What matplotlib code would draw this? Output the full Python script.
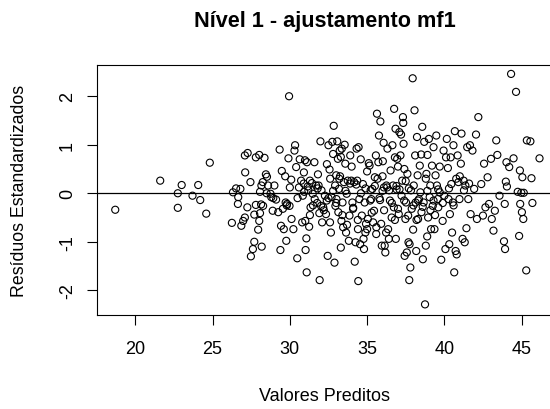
import matplotlib
matplotlib.use("Agg")
import matplotlib.pyplot as plt

plt.rcParams['font.family'] = ['Liberation Sans', 'DejaVu Sans']

title = "Nível 1 - ajustamento mf1"
xlabel = "Valores Preditos"
ylabel = "Resíduos Estandardizados"
xticks = [20, 25, 30, 35, 40, 45]
yticks = [-2, -1, 0, 1, 2]

pts = [
    (18.70, -0.34), (21.61, 0.26), (22.75, 0.00), (22.75, -0.30), (23.00, 0.17),
    (23.70, -0.05), (24.07, 0.17), (24.20, -0.14), (24.59, -0.42), (24.82, 0.63),
    (26.25, -0.61), (26.32, 0.02), (26.52, 0.10), (26.66, -0.08), (26.64, -0.22),
    (26.80, 0.09), (26.86, -0.67), (26.98, -0.57), (27.09, -0.50), (27.09, 0.78),
    (27.11, 0.43), (27.27, 0.83), (27.25, -0.29), (27.45, 0.23), (27.48, -1.30),
    (27.61, -1.15), (27.70, -1.00), (27.70, -0.44), (27.80, 0.74), (27.80, -0.24),
    (27.95, -0.75), (28.02, -0.57), (28.02, 0.79), (28.07, -0.41), (28.07, 0.03),
    (28.14, -0.23), (28.16, 0.16), (28.18, -1.10), (28.25, 0.23), (28.27, -0.26),
    (28.36, 0.73), (28.45, 0.39), (28.52, 0.34), (28.59, 0.16), (28.75, -0.01),
    (28.80, -0.08), (28.89, -0.36), (28.93, -0.10), (29.00, 0.16), (29.11, -0.13),
    (29.25, -0.39), (29.34, 0.90), (29.39, -1.17), (29.43, -0.67), (29.48, 0.46),
    (29.55, -0.32), (29.61, -0.74), (29.70, 0.35), (29.73, -0.19), (29.77, -0.98),
    (29.82, -0.22), (29.91, 0.72), (29.95, 2.00), (29.98, -0.26), (30.00, 0.12),
    (30.09, 0.28), (30.11, -0.53), (30.23, -0.74), (30.30, 0.88), (30.34, 0.99),
    (30.41, 0.54), (30.48, -1.34), (30.59, 0.12), (30.64, 0.70), (30.73, 0.26),
    (30.80, -0.60), (30.84, -0.05), (30.91, 0.43), (30.93, 0.03), (30.98, 0.68),
    (31.00, -0.57), (31.07, -0.93), (31.02, -1.17), (31.09, -1.63), (31.11, 0.64),
    (31.16, 0.14), (31.20, 0.06), (31.25, -0.69), (31.30, 0.26), (31.34, -0.29),
    (31.43, 0.21), (31.48, -0.01), (31.59, 0.64), (31.61, -0.12), (31.70, 0.16),
    (31.77, -0.20), (31.82, 0.39), (31.86, 0.16), (31.91, -0.41), (31.93, -1.79),
    (31.98, 1.07), (32.02, -0.26), (32.05, 0.06), (32.09, -0.60), (32.16, -0.29),
    (32.27, -0.05), (32.34, -0.43), (32.39, -0.15), (32.45, -1.29), (32.50, 0.99),
    (32.57, 0.49), (32.61, 0.30), (32.66, -0.81), (32.70, -0.08), (32.75, 1.06),
    (32.80, 0.81), (32.84, 1.39), (32.89, -1.43), (32.93, 0.16), (32.95, -0.26),
    (33.00, 0.37), (33.02, -0.12), (33.07, 1.07), (33.11, 0.71), (33.14, -0.39),
    (33.18, 0.09), (33.23, 0.88), (33.25, 0.35), (33.30, -1.12), (33.34, -0.57),
    (33.36, 0.92), (33.41, -0.19), (33.45, -0.70), (33.50, 0.23), (33.55, 1.00),
    (33.59, 0.61), (33.64, -0.81), (33.68, -0.01), (33.75, 0.26), (33.82, -0.98),
    (33.86, -0.46), (33.91, 0.78), (33.98, 0.26), (34.05, -0.19), (34.09, -0.32),
    (34.16, 0.23), (34.20, -1.41), (34.25, -1.01), (34.32, 0.92), (34.36, 0.26),
    (34.41, -0.74), (34.43, -1.81), (34.45, 0.95), (34.50, -0.12), (34.55, -1.05),
    (34.59, 0.70), (34.66, -0.46), (34.73, 0.19), (34.77, -0.94), (34.80, -1.15),
    (34.84, -0.19), (34.89, -0.81), (34.93, -0.63), (35.00, -0.74), (35.05, -0.53),
    (35.11, 0.62), (35.16, 0.57), (35.23, 0.06), (35.27, -0.12), (35.34, 0.09),
    (35.39, -0.60), (35.45, -0.36), (35.50, 0.33), (35.57, 0.78), (35.59, -0.84),
    (35.64, 1.64), (35.68, 0.30), (35.73, 0.64), (35.77, 1.19), (35.84, -0.14),
    (35.86, 1.48), (35.91, -0.63), (35.95, -1.08), (36.02, 0.66), (36.07, 1.04),
    (36.09, 0.12), (36.14, -1.08), (36.18, -1.22), (36.23, -0.81), (36.25, 0.16),
    (36.32, 0.92), (36.36, -0.74), (36.41, -0.94), (36.43, 0.06), (36.48, -0.15),
    (36.52, 0.47), (36.59, -0.50), (36.64, 0.99), (36.68, 0.16), (36.73, -0.29),
    (36.75, 1.74), (36.80, 0.74), (36.84, 1.33), (36.86, -0.94), (36.91, 0.08),
    (36.95, 0.71), (37.00, -0.32), (37.05, -0.43), (37.09, 1.26), (37.16, 0.78),
    (37.20, 1.21), (37.23, -0.05), (37.27, 0.26), (37.32, 1.57), (37.34, 1.45),
    (37.36, 1.02), (37.41, 0.50), (37.43, -1.29), (37.48, -0.53), (37.52, -0.19),
    (37.57, -1.22), (37.61, 0.40), (37.66, -0.46), (37.68, -1.01), (37.73, -1.79),
    (37.75, -1.05), (37.80, -1.53), (37.84, 0.06), (37.89, -0.32), (37.95, 2.37),
    (37.98, -0.75), (38.02, 0.16), (38.07, 1.71), (38.11, 0.78), (38.14, -0.19),
    (38.18, -1.19), (38.23, 1.16), (38.27, 0.37), (38.30, -0.53), (38.36, -0.12),
    (38.41, 0.57), (38.45, 0.02), (38.52, -0.39), (38.57, 1.37), (38.61, -1.36),
    (38.66, -0.19), (38.70, 1.06), (38.75, -2.29), (38.80, -1.08), (38.84, 0.40),
    (38.89, -0.89), (38.91, 0.79), (38.95, -0.50), (39.00, 1.12), (39.05, -0.08),
    (39.09, 0.16), (39.14, -0.74), (39.20, 0.57), (39.25, -0.26), (39.30, 0.95),
    (39.36, -0.74), (39.43, 0.37), (39.48, 1.19), (39.52, 0.16), (39.57, -0.12),
    (39.61, -0.29), (39.70, 0.02), (39.80, -1.37), (39.89, -0.57), (39.95, 0.88),
    (40.00, -0.05), (40.07, -1.15), (40.11, 0.74), (40.16, 1.12), (40.23, 0.52),
    (40.27, -0.12), (40.32, -1.05), (40.36, -0.43), (40.41, 0.74), (40.45, 0.19),
    (40.50, -0.81), (40.55, -0.19), (40.59, 0.99), (40.64, -1.63), (40.68, 1.28),
    (40.73, -1.19), (40.77, 0.30), (40.80, -1.26), (40.86, 0.78), (40.91, 0.23),
    (40.98, -0.12), (41.07, 0.61), (41.11, 1.23), (41.18, -0.94), (41.25, 0.26),
    (41.27, 0.06), (41.32, -1.01), (41.36, 0.16), (41.43, -0.72), (41.48, 0.95),
    (41.55, -0.12), (41.66, 0.99), (41.70, -0.43), (41.82, 0.88), (41.93, 0.09),
    (42.05, 1.21), (42.11, -0.53), (42.20, 1.57), (42.39, 0.19), (42.50, -0.46),
    (42.57, 0.61), (42.66, -0.29), (42.80, 0.33), (42.89, -0.22), (43.02, 0.71),
    (43.07, -0.53), (43.18, -0.77), (43.27, -0.36), (43.36, 1.09), (43.43, 0.79),
    (43.57, -0.05), (43.86, -0.99), (43.91, -0.22), (43.93, -1.15), (43.98, 0.24),
    (44.02, 0.64), (44.05, 0.14), (44.20, 0.54), (44.32, 2.46), (44.48, 0.72),
    (44.64, 2.09), (44.75, 0.03), (44.84, -0.88), (44.89, 0.47), (44.91, -0.22),
    (44.98, 0.01), (45.02, -0.39), (45.05, 0.33), (45.11, -0.53), (45.14, 0.01),
    (45.30, -1.59), (45.34, 1.09), (45.57, 1.07), (45.64, 0.31), (45.70, -0.20),
    (46.16, 0.72),
    (32.20, -0.35), (32.50, -0.10), (32.80, 0.05), (33.00, -0.20), (33.20, 0.30),
    (33.40, -0.45), (33.60, 0.05), (33.90, 0.20), (34.10, -0.30), (34.30, 0.18),
    (34.60, 0.00), (34.90, 0.10), (35.20, -0.15), (35.50, 0.15), (35.80, -0.10),
    (36.00, 0.05), (36.30, 0.12), (36.60, -0.20), (36.90, 0.15), (37.10, 0.08),
    (37.40, -0.15), (37.70, 0.10), (38.00, -0.25), (38.30, -0.15), (38.60, -0.28),
    (38.90, 0.05), (39.30, -0.15), (39.60, 0.08), (39.90, -0.20), (40.30, 0.10),
    (31.50, -0.25), (31.80, 0.10), (30.90, 0.20), (30.50, -0.10), (29.80, -0.25),
    (28.50, 0.00), (33.70, -0.65), (34.40, -0.55), (35.30, -0.40), (36.10, -0.35),
    (37.50, 0.25), (38.80, 0.30), (39.10, -0.35), (40.60, -0.25), (41.00, 0.35),
    (41.60, 0.20), (32.40, 0.60), (33.30, 0.75), (34.00, 0.55), (35.00, 0.45),
    (36.00, 0.35), (37.00, 0.55), (38.50, 0.80), (39.70, 0.55), (31.30, -0.45),
    (32.60, -0.60), (35.60, -0.70), (36.80, -0.55), (38.20, -0.55), (39.40, -0.45),
]
fitted = [p[0] for p in pts]
residuals = [p[1] for p in pts]

W, H = 550, 410
fig = plt.figure(figsize=(W / 100, H / 100), dpi=100)
left, bottom_px, top_px, right_px = 96.7, 315.7, 65.7, 552.8
ax = fig.add_axes([left / W, 1 - bottom_px / H, (right_px - left) / W, (bottom_px - top_px) / H])

ax.scatter(fitted, residuals, s=26, facecolors='none', edgecolors='black', linewidths=0.8)
ax.axhline(0, color='black', linewidth=0.9)

ax.set_xlim(17.5, 47.02)
ax.set_ylim(-2.503, 2.65)
ax.set_xticks(xticks)
ax.set_yticks(yticks)
ax.set_xticklabels([str(t) for t in xticks])
ax.set_yticklabels([str(t) for t in yticks], rotation=90, va='center')
ax.tick_params(axis='both', direction='out', length=7.5, width=0.8, labelsize=13, colors='black')
ax.tick_params(axis='x', pad=10.5)
ax.tick_params(axis='y', pad=7.5)
for sp in ax.spines.values():
    sp.set_linewidth(0.8)
    sp.set_color('black')

fig.text(324.7 / W, 1 - 21.7 / H, title, ha='center', va='center', fontsize=15.6, fontweight='bold')
fig.text(324.7 / W, 1 - 397 / H, xlabel, ha='center', va='center', fontsize=13)
fig.text(19.5 / W, 1 - 190.7 / H, ylabel, ha='center', va='center', rotation=90, fontsize=12.8)

fig.savefig("out.png", dpi=100)
